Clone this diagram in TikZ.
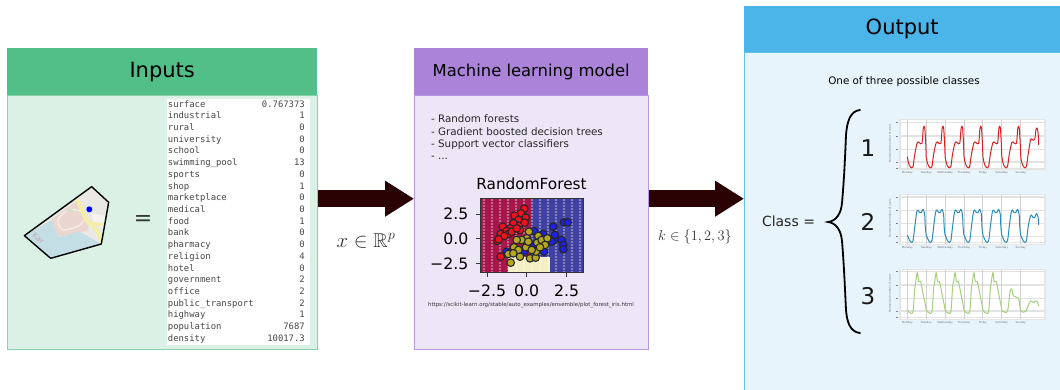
\documentclass[tikz,border=0pt]{standalone}
\usepackage{amssymb}
\usepackage[no-math]{fontspec}
\setmainfont{DejaVu Sans}
\setmonofont{DejaVu Sans Mono}
\usetikzlibrary{arrows.meta}
\definecolor{ingreen}{HTML}{52BF88}
\definecolor{inbg}{HTML}{DCF1E6}
\definecolor{inline}{HTML}{86D3AB}
\definecolor{mlhead}{HTML}{AB84DA}
\definecolor{mlbg}{HTML}{EDE6F7}
\definecolor{mlline}{HTML}{B898E2}
\definecolor{outhead}{HTML}{4BB4E8}
\definecolor{outbg}{HTML}{E8F4FB}
\definecolor{outline}{HTML}{62BEEA}
\definecolor{bigarrow}{HTML}{2A0203}
\definecolor{rfred}{HTML}{A8174B}
\definecolor{rfblue}{HTML}{4141A2}
\definecolor{rfyellow}{HTML}{F5EFC4}
\definecolor{tred}{HTML}{D8201F}
\definecolor{tblue}{HTML}{2A8DB9}
\definecolor{tgreen}{HTML}{A7CF7C}
\definecolor{mapbase}{HTML}{EAE8E4}
\definecolor{mappale}{HTML}{F4F2EE}
\definecolor{mappink}{HTML}{EBD6CF}
\definecolor{mapsea}{HTML}{C3DEE5}
\definecolor{maproad}{HTML}{F3EDA6}
\definecolor{maptrack}{HTML}{F5EEEA}
\definecolor{mapgreen}{HTML}{CFE0C4}
\definecolor{maptext}{HTML}{C9A3AE}
\definecolor{dotred}{HTML}{F0101F}
\definecolor{dotyellow}{HTML}{B4A81E}
\definecolor{dotblue}{HTML}{1F1FEA}
\newcommand\fs[1]{\fontsize{#1}{#1}\selectfont}
\newcommand\threedots{...}
\tikzset{
  x=1pt,y=-1pt,
  headbox/.style={draw=none,inner sep=0,anchor=north west,font=\fs{21}},
  bodybox/.style={inner sep=0,anchor=north west,line width=1pt},
  flow/.style={draw=bigarrow,line width=17.5pt,-{Triangle[length=29pt,width=34pt,color=bigarrow]}},
  cell/.style={font=\ttfamily\fs{8.9},text=black!72,inner sep=0},
  ticklab/.style={font=\fs{15.7},inner sep=0},
  dotr/.style={circle,draw=black!85,line width=1.1pt,fill=dotred,minimum size=7.6pt,inner sep=0},
  doty/.style={dotr,fill=dotyellow},
  dotb/.style={dotr,fill=dotblue},
  daylab/.style={font=\fs{2.7},text=black!55,inner sep=0},
  curve/.style={line width=1pt,line join=round},
}
% time-series panel: #1 name, #2 top y, #3 horizontal grid shift, #4 curve
\newcommand\tschart[4]{%
\begin{scope}[shift={(907.3,#2)},x=.3333pt,y=-.3333pt]
  \fill[white] (-22,0) rectangle (413,150);
  \foreach \g in {10,50,90,128,147} \draw[black!11,line width=1.2pt] (-22,\g+#3) -- (413,\g+#3);
  \foreach \v in {0,1,...,6} \draw[black!18,line width=1pt] (\v*56.7,0) -- (\v*56.7,150);
  \draw[black!10,line width=1.2pt] (-22,0) rectangle (413,150);
  \foreach \g in {10,50,90,128,147} \draw[black!50,line width=.5pt] (-34,\g+#3) -- (-27,\g+#3);
  \node[daylab,rotate=90] (#1y) at (-52,72) {Normalized number of users};
  \foreach \d [count=\n from 0] in {Monday,Tuesday,Wednesday,Thursday,Friday,Saturday,Sunday}
    \node[daylab] (#1d\n) at (\n*56.7,161) {\d};
  #4
\end{scope}}
\newcommand\daycurve[3]{\draw[curve,#2,shift={(#1*56.7,0)}] plot[smooth,tension=.55] coordinates {#3};}
\begin{document}
\begin{tikzpicture}
\useasboundingbox (0,0) rectangle (1060,390);
% Inputs
\node[bodybox,draw=inline,fill=inbg,minimum width=310pt,minimum height=254pt] (inbody) at (7,95) {};
\node[headbox,fill=ingreen,minimum width=310pt,minimum height=47pt] (inhead) at (7,48) {Inputs};
% Machine learning
\node[bodybox,draw=mlline,fill=mlbg,minimum width=234pt,minimum height=254pt] (mlbody) at (414,95) {};
\node[headbox,fill=mlhead,minimum width=234pt,minimum height=47pt,font=\fs{16.4}] (mlhead) at (414,48) {Machine learning model};
% Output
\node[bodybox,draw=outline,fill=outbg,minimum width=317pt,minimum height=339pt] (outbody) at (744,52) {};
\node[headbox,fill=outhead,minimum width=316pt,minimum height=46pt] (outhead) at (744,6) {Output};
% Table
\node[inner sep=0,fill=white,minimum width=143pt,minimum height=246pt,anchor=north west] (tablebg) at (167,99) {};
\foreach \k/\v [count=\i from 0] in {surface/0.767373,industrial/1,rural/0,university/0,school/0,swimming\_pool/13,sports/0,shop/1,marketplace/0,medical/0,food/1,bank/0,pharmacy/0,religion/4,hotel/0,government/2,office/2,public\_transport/2,highway/1,population/7687,density/10017.3}{
  \node[cell,anchor=base west] (key\i) at (167.7,107.2+\i*11.7) {\k};
  \node[cell,anchor=base east] (val\i) at (305,107.2+\i*11.7) {\v};
}
% Map
\begin{scope}[shift={(20,180)},x=.3333pt,y=-.3333pt]
  \clip (13,167) -- (215,20) -- (266,67) -- (244,192) -- (92,235) -- cycle;
  \fill[mapbase] (0,0) rectangle (280,240);
  \fill[mappale] (215,100) -- (266,110) -- (250,145) -- (220,125) -- cycle;
  \fill[mappink] (95,118) -- (172,62) -- (205,130) -- (205,152) -- (115,170) -- cycle;
  \fill[mapsea] (13,167) -- (95,120) -- (115,172) -- (178,155) -- (244,192) -- (92,235) -- cycle;
  \draw[maptrack,line width=1.1pt] (115,115) .. controls (135,85) and (175,80) .. (195,105) .. controls (195,130) and (175,145) .. (130,150) .. controls (115,145) and (112,125) .. (115,115);
  \fill[mapgreen] (150,92) ellipse (10 and 4);
  \draw[maproad,line width=4pt] (172,58) .. controls (185,85) and (190,110) .. (205,128) .. controls (225,140) and (240,160) .. (245,190);
  \draw[maproad,line width=3pt] (205,128) -- (255,135);
  \node[font=\fs{7.5},text=maptext,rotate=-38,inner sep=0] (maplabel) at (55,175) {Kar};
\end{scope}
\begin{scope}[shift={(20,180)},x=.3333pt,y=-.3333pt]
  \draw[black,line width=1.4pt,line join=round] (13,167) -- (215,20) -- (266,67) -- (244,192) -- (92,235) -- cycle;
  \node[circle,fill=blue,inner sep=0,minimum size=6pt] (mapdot) at (208,88) {};
\end{scope}
\node[inner sep=0,font=\fs{22},text=black!80] (equals) at (143,221) {=};
% Flow arrows
\coordinate (row) at (0,198.7);
\draw[flow] (inbody.east |- row) -- (mlbody.west |- row);
\draw[flow] (mlbody.east |- row) -- (outbody.west |- row);
\node[inner sep=0,font=\fs{20},text=black!80] (xlab) at (366,241) {$x \in \mathbb{R}^p$};
\node[inner sep=0,font=\fs{15.4},text=black!80] (klab) at (695,237) {$k \in \{1,2,3\}$};
% ML list
\foreach \t/\yy [count=\i] in {- Random forests/118.5,- Gradient boosted decision trees/131.5,- Support vector classifiers/144.5,- \threedots/157.5}
  \node[inner sep=0,anchor=west,font=\fs{10.3},text=black!85] (mlitem\i) at (431,\yy) {\t};
% RandomForest plot
\node[inner sep=0,font=\fs{15.3}] (rftitle) at (531.5,184) {RandomForest};
\fill[rfblue] (480.3,199) rectangle (583.7,272.7);
\fill[rfred] (480.3,199) rectangle (531.7,256.7);
\fill[rfred] (480.3,256.7) rectangle (507.7,272.7);
\fill[rfyellow] (507.7,256.7) rectangle (550,272.7);
\foreach \sx in {0,1,...,12}
  \draw[white,opacity=.35,line width=2pt,dash pattern=on 2pt off 1pt] (484+\sx*8,199) -- (484+\sx*8,272.7);
\begin{scope}[shift={(410,160)},x=.3333pt,y=-.3333pt]
  \foreach \px/\py [count=\i] in {462/187,473/187,430/200,372/213,400/222,432/240,455/240,460/255,460/268,402/275,372/255,342/275,290/275,435/225,425/245}
    \node[dotb] (blue\i) at (\px,\py) {};
  \foreach \px/\py [count=\i] in {343/146,333/160,314/167,325/180,347/173,344/188,325/197,310/190,300/205,278/200,290/213,272/222,296/222,283/228,262/243,266/238,272/290,330/210,305/215,320/205}
    \node[dotr] (red\i) at (\px,\py) {};
  \foreach \px/\py [count=\i] in {357/215,350/235,335/240,320/240,385/228,382/248,395/240,412/235,405/255,348/262,312/262,325/270,295/282,310/280,330/290,302/308,360/295,377/293,378/275,365/270,390/262,355/245}
    \node[doty] (yel\i) at (\px,\py) {};
\end{scope}
\draw[black!80,line width=1pt] (480.3,199) rectangle (583.7,272.7);
\foreach \tx/\tl [count=\i] in {487/−2.5,526.7/0.0,566.7/2.5}{
  \draw[black!80,line width=.9pt] (\tx,272.7) -- (\tx,277);
  \node[ticklab] (xt\i) at (\tx,291) {\tl};
}
\foreach \ty/\tl [count=\i] in {214/2.5,238.3/0.0,263.3/−2.5}{
  \draw[black!80,line width=.9pt] (480.3,\ty) -- (476,\ty);
  \node[ticklab,anchor=east] (yt\i) at (468.5,\ty) {\tl};
}
\node[inner sep=0,font=\fs{5.45},text=black!80] (url) at (531,305.5) {https://scikit-learn.org/stable/auto\_examples/ensemble/plot\_forest\_iris.html};
% Output
\node[inner sep=0,font=\fs{10.35}] (outcaption) at (904,81.5) {One of three possible classes};
\node[inner sep=0,font=\fs{14},text=black!85] (classlab) at (788.5,221.5) {Class =};
\draw[black,line width=1.8pt,line cap=round] (860,110) .. controls (850,111) and (847,122) .. (846,135)
  .. controls (845,160) and (844,180) .. (842,203) .. controls (841,214) and (836,221) .. (828,222)
  .. controls (836,223) and (841,230) .. (842,241) .. controls (844,265) and (845,290) .. (846,310)
  .. controls (847,322) and (850,332) .. (860,333);
\node[inner sep=0,font=\fs{23},text=black!90] (c1) at (868,148.5) {1};
\node[inner sep=0,font=\fs{23},text=black!90] (c2) at (868,222) {2};
\node[inner sep=0,font=\fs{23},text=black!90] (c3) at (868,296) {3};
\tschart{ta}{119.3}{0}{
  \foreach \dd in {0,1,...,5}{
    \daycurve{\dd}{tred}{(0,112) (4,132) (10,144) (17,142) (22,107) (30,70) (36,70) (44,72) (48,27) (52,24) (55,67) (56.7,112)}
  }
  \daycurve{6}{tred}{(0,112) (4,132) (10,144) (17,142) (22,107) (30,60) (36,62) (42,60) (46,30) (50,28) (53,50) (54,77)}
}
\tschart{tb}{194.3}{-2}{
  \foreach \dd in {0,1,...,5}{
    \daycurve{\dd}{tblue}{(0,122) (4,132) (10,143) (17,140) (22,100) (28,55) (32,47) (37,55) (42,55) (47,45) (52,60) (54,100) (56.7,122)}
  }
  \daycurve{6}{tblue}{(0,122) (4,132) (10,143) (17,140) (22,100) (28,70) (32,62) (37,70) (42,70) (47,58) (52,68) (54,92)}
}
\tschart{tc}{269.3}{-3}{
  \foreach \dd in {0,1,...,4}{
    \daycurve{\dd}{tgreen}{(0,122) (6,129) (17,127) (22,60) (25,40) (30,10) (34,37) (40,37) (48,77) (54,107) (56.7,122)}
  }
  \daycurve{5}{tgreen}{(0,124) (10,129) (18,122) (25,67) (30,59) (35,80) (50,87) (55,117) (56.7,124)}
  \daycurve{6}{tgreen}{(0,124) (8,129) (16,125) (22,110) (30,95) (38,100) (46,95) (50,97) (54,110)}
}
\end{tikzpicture}
\end{document}
